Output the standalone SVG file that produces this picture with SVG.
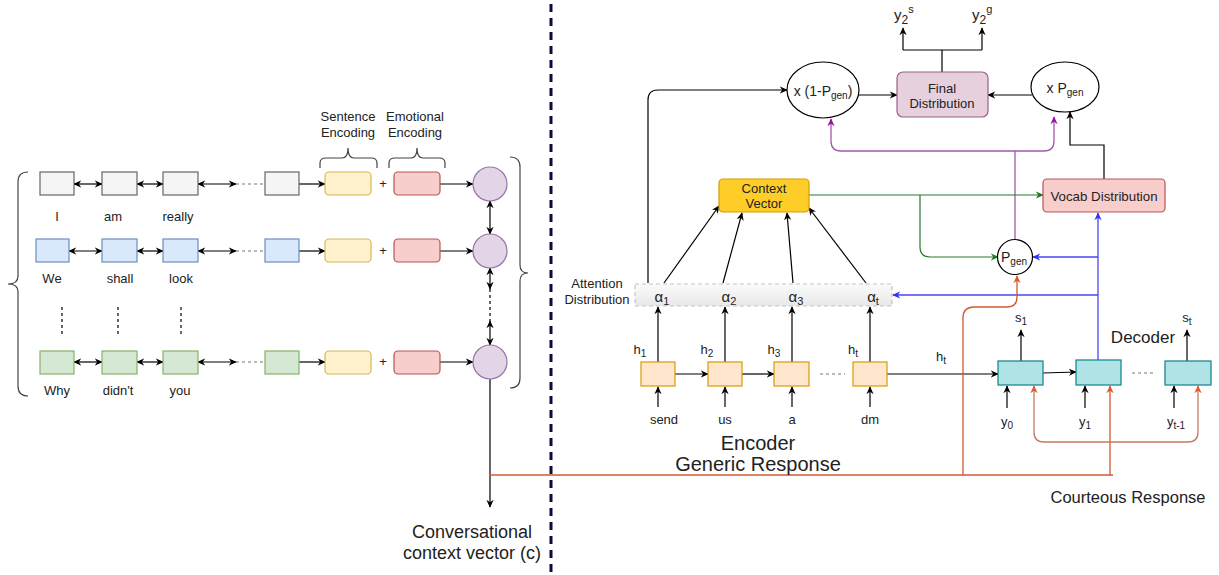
<svg xmlns="http://www.w3.org/2000/svg" width="1219" height="575" viewBox="0 0 1219 575">
  <style>
    text { font-family: "Liberation Sans", Arial, sans-serif; fill: #222; }
    .lbl { font-size: 13px; text-anchor: middle; }
    .big { font-size: 18px; text-anchor: middle; }
    .mid { font-size: 14px; text-anchor: middle; }
    .k { stroke: #000; stroke-width: 1.2; fill: none; }
    .dot { stroke: #777; stroke-width: 1.2; stroke-dasharray: 3 3; fill: none; }
    .dotk { stroke: #000; stroke-width: 1.2; stroke-dasharray: 3 3; fill: none; }
    .brace { stroke: #444; stroke-width: 1.2; fill: none; }
    .gray { fill: #f5f5f5; stroke: #666; stroke-width: 1.2; }
    .blue { fill: #dae8fc; stroke: #6c8ebf; stroke-width: 1.2; }
    .green { fill: #d5e8d4; stroke: #82b366; stroke-width: 1.2; }
    .yel { fill: #fff2cc; stroke: #d6b656; stroke-width: 1.2; }
    .red { fill: #f8cecc; stroke: #b85450; stroke-width: 1.2; }
    .circ { fill: #e1d5e7; stroke: #9673a6; stroke-width: 1.2; }
    .enc { fill: #ffe6cc; stroke: #d79b00; stroke-width: 1.2; }
    .dec { fill: #b0e3e6; stroke: #0e8088; stroke-width: 1.2; }
    .ell { fill: #fff; stroke: #000; stroke-width: 1.2; }
    .gr { stroke: #2a7a2a; stroke-width: 1.2; fill: none; }
    .bl { stroke: #4646f0; stroke-width: 1.3; fill: none; }
    .pu { stroke: #a05aaa; stroke-width: 1.3; fill: none; }
    .or { stroke: #d05a30; stroke-width: 1.3; fill: none; }
    .br { stroke: #c27a62; stroke-width: 1.3; fill: none; }
    .alpha { font-size: 15px; text-anchor: middle; }
    .head { font-size: 20px; text-anchor: middle; }
  </style>
  <defs>
    <marker id="ak" viewBox="0 0 10 10" refX="9" refY="5" markerWidth="8" markerHeight="8" markerUnits="userSpaceOnUse" orient="auto-start-reverse"><path d="M0,0.5 L10,5 L0,9.5 L3,5 Z" fill="#000"/></marker>
    <marker id="ag" viewBox="0 0 10 10" refX="9" refY="5" markerWidth="8" markerHeight="8" markerUnits="userSpaceOnUse" orient="auto-start-reverse"><path d="M0,0.5 L10,5 L0,9.5 L3,5 Z" fill="#1f7a1f"/></marker>
    <marker id="ab" viewBox="0 0 10 10" refX="9" refY="5" markerWidth="8" markerHeight="8" markerUnits="userSpaceOnUse" orient="auto-start-reverse"><path d="M0,0.5 L10,5 L0,9.5 L3,5 Z" fill="#3030ff"/></marker>
    <marker id="ap" viewBox="0 0 10 10" refX="9" refY="5" markerWidth="8" markerHeight="8" markerUnits="userSpaceOnUse" orient="auto-start-reverse"><path d="M0,0.5 L10,5 L0,9.5 L3,5 Z" fill="#a010a8"/></marker>
    <marker id="ao" viewBox="0 0 10 10" refX="9" refY="5" markerWidth="8" markerHeight="8" markerUnits="userSpaceOnUse" orient="auto-start-reverse"><path d="M0,0.5 L10,5 L0,9.5 L3,5 Z" fill="#e0572a"/></marker>
    <linearGradient id="attn" x1="0" y1="0" x2="0" y2="1">
      <stop offset="0" stop-color="#fbfbfb"/>
      <stop offset="1" stop-color="#e8e8e8"/>
    </linearGradient>
  </defs>

  <!-- divider -->
  <line x1="551" y1="4" x2="551" y2="575" stroke="#0b0b3b" stroke-width="3" stroke-dasharray="8 6"/>

  <!-- ===== connectors ===== -->
  <g id="connectors">
    <!-- left: word chains -->
    <path class="k" d="M74,184 H102" marker-start="url(#ak)" marker-end="url(#ak)"/>
    <path class="k" d="M137,184 H163" marker-start="url(#ak)" marker-end="url(#ak)"/>
    <path class="k" d="M198,184 H236" marker-start="url(#ak)" marker-end="url(#ak)"/>
    <path class="dot" d="M236,184 H265"/>
    <path class="k" d="M69,251 H102" marker-start="url(#ak)" marker-end="url(#ak)"/>
    <path class="k" d="M137,251 H163" marker-start="url(#ak)" marker-end="url(#ak)"/>
    <path class="k" d="M198,251 H236" marker-start="url(#ak)" marker-end="url(#ak)"/>
    <path class="dot" d="M236,251 H265"/>
    <path class="k" d="M74,362 H102" marker-start="url(#ak)" marker-end="url(#ak)"/>
    <path class="k" d="M137,362 H163" marker-start="url(#ak)" marker-end="url(#ak)"/>
    <path class="k" d="M198,362 H236" marker-start="url(#ak)" marker-end="url(#ak)"/>
    <path class="dot" d="M236,362 H265"/>
    <path class="dotk" d="M62,307 V337 M118,307 V337 M181,307 V337"/>
    <path class="k" d="M299,184 H325" marker-end="url(#ak)"/>
    <path class="k" d="M299,251 H325" marker-end="url(#ak)"/>
    <path class="k" d="M299,362 H325" marker-end="url(#ak)"/>
    <path class="k" d="M440,184 H473" marker-end="url(#ak)"/>
    <path class="k" d="M440,251 H473" marker-end="url(#ak)"/>
    <path class="k" d="M440,362 H473" marker-end="url(#ak)"/>
    <path class="k" d="M490,201 V234" marker-start="url(#ak)" marker-end="url(#ak)"/>
    <path class="k" d="M490,268 V289" marker-start="url(#ak)" marker-end="url(#ak)"/>
    <path class="dotk" d="M490,289 V321"/>
    <path class="k" d="M490,321 V345" marker-start="url(#ak)" marker-end="url(#ak)"/>
    <path class="k" d="M490,379 V507" marker-end="url(#ak)"/>

    <!-- encoder -->
    <path class="k" d="M675,374 H708" marker-end="url(#ak)"/>
    <path class="k" d="M742,374 H774" marker-end="url(#ak)"/>
    <path class="dot" d="M820,374 H845"/>
    <path class="k" d="M658,407 V387" marker-end="url(#ak)"/>
    <path class="k" d="M725,407 V387" marker-end="url(#ak)"/>
    <path class="k" d="M792,407 V387" marker-end="url(#ak)"/>
    <path class="k" d="M870,407 V387" marker-end="url(#ak)"/>
    <path class="k" d="M658,362 V307" marker-end="url(#ak)"/>
    <path class="k" d="M725,362 V307" marker-end="url(#ak)"/>
    <path class="k" d="M792,362 V307" marker-end="url(#ak)"/>
    <path class="k" d="M870,362 V307" marker-end="url(#ak)"/>
    <path class="k" d="M887,374 H998" marker-end="url(#ak)"/>

    <!-- attention to context -->
    <path class="k" d="M664,283 L719,206" marker-end="url(#ak)"/>
    <path class="k" d="M723,283 L742,213" marker-end="url(#ak)"/>
    <path class="k" d="M793,283 L787,213" marker-end="url(#ak)"/>
    <path class="k" d="M866,283 L809,208" marker-end="url(#ak)"/>
    <path class="k" d="M648,283 V100 Q648,90 658,90 H787" marker-end="url(#ak)"/>

    <!-- top -->
    <path class="k" d="M859,95 H897" marker-end="url(#ak)"/>
    <path class="k" d="M1032,95 H988" marker-end="url(#ak)"/>
    <path class="k" d="M942,72 V50 M903,50 H982"/>
    <path class="k" d="M903,50 V28" marker-end="url(#ak)"/>
    <path class="k" d="M982,50 V28" marker-end="url(#ak)"/>
    <path class="k" d="M1104,179 V145 H1070 V112" marker-end="url(#ak)"/>

    <!-- pointer-generator -->
    <path class="pu" d="M1015,239 V151"/>
    <path class="pu" d="M831,119 V141 Q831,151 841,151 H1044 Q1054,151 1054,141 V117" marker-start="url(#ap)" marker-end="url(#ap)"/>
    <path class="gr" d="M809,195 H1043" marker-end="url(#ag)"/>
    <path class="gr" d="M920,195 V247 Q920,257 930,257 H998" marker-end="url(#ag)"/>
    <path class="bl" d="M1098,361 V213" marker-end="url(#ab)"/>
    <path class="bl" d="M1098,257 H1033" marker-end="url(#ab)"/>
    <path class="bl" d="M1098,295 H893" marker-end="url(#ab)"/>

    <!-- decoder -->
    <path class="k" d="M1043,373 L1076,372" marker-end="url(#ak)"/>
    <path class="dot" d="M1132,373 H1156"/>
    <path class="k" d="M1021,361 V330" marker-end="url(#ak)"/>
    <path class="k" d="M1187,361 V330" marker-end="url(#ak)"/>
    <path class="k" d="M1007,408 V386" marker-end="url(#ak)"/>
    <path class="k" d="M1085,408 V386" marker-end="url(#ak)"/>
    <path class="k" d="M1174,408 V386" marker-end="url(#ak)"/>

    <!-- courteous response feed -->
    <path class="or" d="M489,475 H1113"/>
    <path class="or" d="M1110,475 V386" marker-end="url(#ao)"/>
    <path class="or" d="M963,475 V318 Q963,307 974,307 H1007 Q1017,307 1017,297 V276" marker-end="url(#ao)"/>
    <path class="br" d="M1034,386 V432 Q1034,442 1044,442 H1188 Q1198,442 1198,432 V386" marker-start="url(#ao)" marker-end="url(#ao)"/>
  </g>

  <!-- ===== braces ===== -->
  <g id="braces">
    <path class="brace" d="M28,172 Q18,172 18,182 V276 Q18,284 8,284 Q18,284 18,292 V386 Q18,396 28,396"/>
    <path class="brace" d="M510,157 Q520,157 520,167 V265 Q520,273 528,273 Q520,273 520,281 V378 Q520,388 510,388"/>
    <path class="brace" d="M320,168 V163 Q320,158 326,158 H342 Q348,158 348,148 Q348,158 354,158 H371 Q377,158 377,163 V168"/>
    <path class="brace" d="M389,168 V163 Q389,158 395,158 H411 Q417,158 417,148 Q417,158 423,158 H439 Q445,158 445,163 V168"/>
  </g>

  <!-- ===== left: utterance encoder ===== -->
  <g id="utterance-1">
    <rect class="gray" x="40" y="172" width="34" height="23"/>
    <rect class="gray" x="102" y="172" width="35" height="23"/>
    <rect class="gray" x="163" y="172" width="35" height="23"/>
    <rect class="gray" x="265" y="172" width="34" height="23"/>
    <text class="lbl" x="57" y="221">I</text>
    <text class="lbl" x="113" y="221">am</text>
    <text class="lbl" x="178" y="221">really</text>
  </g>
  <g id="utterance-2">
    <rect class="blue" x="36" y="239" width="33" height="23"/>
    <rect class="blue" x="102" y="239" width="35" height="23"/>
    <rect class="blue" x="163" y="239" width="35" height="23"/>
    <rect class="blue" x="265" y="239" width="34" height="23"/>
    <text class="lbl" x="52" y="283">We</text>
    <text class="lbl" x="120" y="283">shall</text>
    <text class="lbl" x="181" y="283">look</text>
  </g>
  <g id="utterance-n">
    <rect class="green" x="40" y="351" width="34" height="23"/>
    <rect class="green" x="102" y="351" width="35" height="23"/>
    <rect class="green" x="163" y="351" width="35" height="23"/>
    <rect class="green" x="265" y="351" width="34" height="23"/>
    <text class="lbl" x="57" y="395">Why</text>
    <text class="lbl" x="118" y="395">didn't</text>
    <text class="lbl" x="180" y="395">you</text>
  </g>
  <g id="encodings">
    <text class="lbl" x="348" y="121">Sentence</text>
    <text class="lbl" x="348" y="137">Encoding</text>
    <text class="lbl" x="415" y="121">Emotional</text>
    <text class="lbl" x="415" y="137">Encoding</text>
    <rect class="yel" x="325" y="172" width="46" height="23" rx="4"/>
    <rect class="yel" x="325" y="239" width="46" height="23" rx="4"/>
    <rect class="yel" x="325" y="351" width="46" height="23" rx="4"/>
    <rect class="red" x="394" y="172" width="46" height="23" rx="4"/>
    <rect class="red" x="394" y="239" width="46" height="23" rx="4"/>
    <rect class="red" x="394" y="351" width="46" height="23" rx="4"/>
    <text class="lbl" x="383" y="188">+</text>
    <text class="lbl" x="383" y="255">+</text>
    <text class="lbl" x="383" y="366">+</text>
  </g>
  <g id="context-rnn">
    <circle class="circ" cx="490" cy="184" r="17"/>
    <circle class="circ" cx="490" cy="251" r="17"/>
    <circle class="circ" cx="490" cy="362" r="17"/>
    <text class="big" x="472" y="538">Conversational</text>
    <text class="big" x="472" y="559">context vector (c)</text>
  </g>

  <!-- ===== right: pointer-generator ===== -->
  <g id="encoder">
    <rect class="enc" x="641" y="362" width="34" height="24"/>
    <rect class="enc" x="708" y="362" width="34" height="24"/>
    <rect class="enc" x="774" y="362" width="35" height="24"/>
    <rect class="enc" x="853" y="362" width="34" height="24"/>
    <text class="lbl" x="640" y="354">h<tspan font-size="10" dy="3">1</tspan></text>
    <text class="lbl" x="707" y="354">h<tspan font-size="10" dy="3">2</tspan></text>
    <text class="lbl" x="774" y="354">h<tspan font-size="10" dy="3">3</tspan></text>
    <text class="lbl" x="853" y="354">h<tspan font-size="10" dy="3">t</tspan></text>
    <text class="lbl" x="664" y="424">send</text>
    <text class="lbl" x="725" y="424">us</text>
    <text class="lbl" x="792" y="424">a</text>
    <text class="lbl" x="870" y="424">dm</text>
    <text class="head" x="758" y="450">Encoder</text>
    <text class="head" x="758" y="471">Generic Response</text>
    <text class="lbl" x="941" y="361">h<tspan font-size="10" dy="3">t</tspan></text>
  </g>
  <g id="attention">
    <rect x="635" y="284" width="257" height="22" fill="url(#attn)" stroke="#c4c4c4" stroke-width="1.2" stroke-dasharray="4 3"/>
    <text class="lbl" x="597" y="288">Attention</text>
    <text class="lbl" x="597" y="304">Distribution</text>
    <text class="alpha" x="662" y="302">α<tspan font-size="11" dy="3">1</tspan></text>
    <text class="alpha" x="729" y="302">α<tspan font-size="11" dy="3">2</tspan></text>
    <text class="alpha" x="796" y="302">α<tspan font-size="11" dy="3">3</tspan></text>
    <text class="alpha" x="873" y="302">α<tspan font-size="11" dy="3">t</tspan></text>
  </g>
  <g id="context-vector">
    <rect x="719" y="179" width="90" height="33" rx="4" fill="#ffcd28" stroke="#d79b00" stroke-width="1.2"/>
    <text class="lbl" x="764" y="193">Context</text>
    <text class="lbl" x="764" y="208">Vector</text>
  </g>
  <g id="copy-weight">
    <ellipse class="ell" cx="823" cy="90" rx="36" ry="28"/>
    <text class="mid" x="823" y="96">x (1-P<tspan font-size="10" dy="3">gen</tspan><tspan dy="-3">)</tspan></text>
  </g>
  <g id="final-distribution">
    <rect x="897" y="72" width="91" height="45" rx="6" fill="#e6d0de" stroke="#996185" stroke-width="1.2"/>
    <text class="lbl" x="942" y="93">Final</text>
    <text class="lbl" x="942" y="108">Distribution</text>
    <text x="894" y="20" font-size="15">y<tspan font-size="12" dy="4">2</tspan><tspan font-size="11" dy="-11">s</tspan></text>
    <text x="972" y="20" font-size="15">y<tspan font-size="12" dy="4">2</tspan><tspan font-size="11" dy="-11">g</tspan></text>
  </g>
  <g id="gen-weight">
    <ellipse class="ell" cx="1065" cy="87" rx="34" ry="25"/>
    <text class="mid" x="1065" y="93">x P<tspan font-size="10" dy="3">gen</tspan></text>
  </g>
  <g id="vocab-distribution">
    <rect class="red" x="1043" y="179" width="122" height="33" rx="4"/>
    <text class="mid" x="1104" y="201" style="font-size:13.3px">Vocab Distribution</text>
  </g>
  <g id="p-gen">
    <circle class="ell" cx="1015" cy="257" r="17.5"/>
    <text class="mid" x="1014" y="262">P<tspan font-size="10" dy="3">gen</tspan></text>
  </g>
  <g id="decoder">
    <rect class="dec" x="998" y="361" width="45" height="24"/>
    <rect class="dec" x="1076" y="360" width="45" height="25"/>
    <rect class="dec" x="1165" y="361" width="46" height="24"/>
    <text class="lbl" x="1021" y="322">s<tspan font-size="10" dy="3">1</tspan></text>
    <text class="lbl" x="1187" y="322">s<tspan font-size="10" dy="3">t</tspan></text>
    <text class="big" x="1143" y="343" style="font-size:17px">Decoder</text>
    <text class="lbl" x="1007" y="426">y<tspan font-size="10" dy="3">0</tspan></text>
    <text class="lbl" x="1085" y="426">y<tspan font-size="10" dy="3">1</tspan></text>
    <text class="lbl" x="1176" y="426">y<tspan font-size="10" dy="3">t-1</tspan></text>
    <text class="big" x="1128" y="503" style="font-size:16.5px">Courteous Response</text>
  </g>
</svg>
